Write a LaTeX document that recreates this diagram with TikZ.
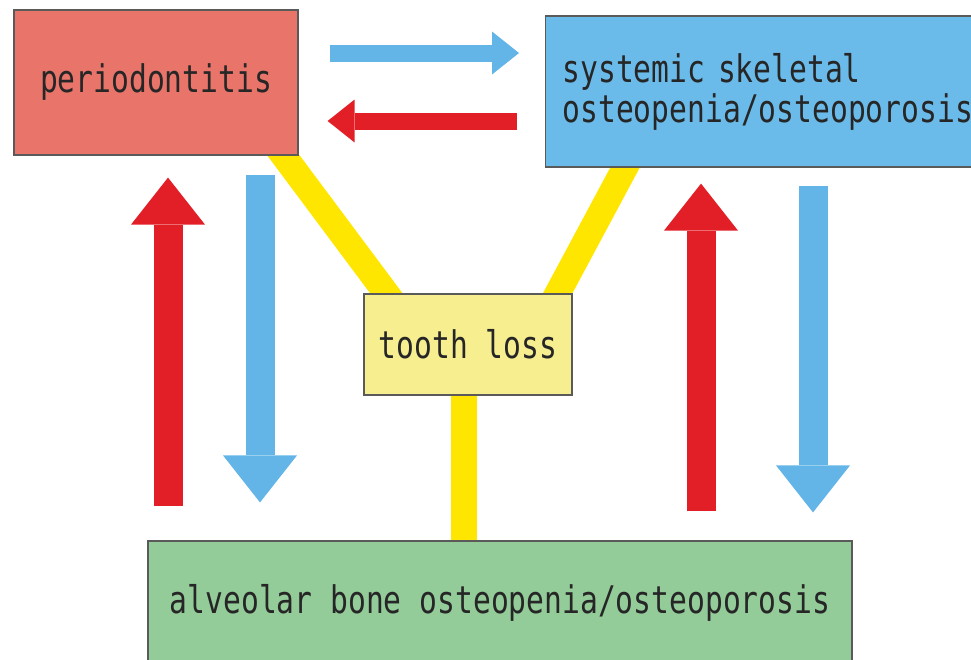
\documentclass[tikz,border=0pt]{standalone}
\usepackage{fontspec}
\newfontfamily\gothic[FakeStretch=0.78]{DejaVu Sans Mono}
\usepackage{tikz}
\usetikzlibrary{arrows.meta,backgrounds,calc}
\definecolor{perioRed}{HTML}{E8746A}
\definecolor{skelBlue}{HTML}{6BBBEA}
\definecolor{toothFill}{HTML}{F7EE90}
\definecolor{alvGreen}{HTML}{93CB99}
\definecolor{boxLine}{HTML}{5A5A5A}
\definecolor{arrBlue}{HTML}{63B5E7}
\definecolor{arrRed}{HTML}{E21F26}
\definecolor{bondYellow}{HTML}{FFE600}

\begin{document}
\begin{tikzpicture}[x=1pt, y=-1pt, box/.style={draw=boxLine, line width=1.2pt, inner sep=0pt, text=black!85, font=\gothic\fontsize{38}{40}\selectfont}, bond/.style={draw=bondYellow, line width=26pt}, bigarr/.style={line width=29pt, -{Triangle[length=47pt, width=74pt, line width=0pt]}}, smallarr/.style={line width=17pt, -{Triangle[length=27pt, width=43pt, line width=0pt]}}
]
  \useasboundingbox (0,0) rectangle (971,659);
  \node[box, fill=perioRed, minimum width=284pt, minimum height=145pt] (perio) at (156,82.5) {periodontitis};
  \node[box, fill=skelBlue, anchor=west, minimum height=151pt, text width=466pt, inner xsep=17pt, align=left] (skel) at (545,91.5)
    {systemic skeletal\\osteopenia/osteoporosis};
  \node[box, fill=toothFill, minimum width=208pt, minimum height=101pt] (tooth) at (468,344.5) {tooth loss};
  \node[box, fill=alvGreen, minimum width=704pt, minimum height=124pt] (alv) at (500,603)
    {alveolar bone osteopenia/osteoporosis};
  \begin{scope}[on background layer]
    \draw[bond, shorten <=-20pt, shorten >=-20pt] ($(perio.south east)+(-15,0)$) -- ($(tooth.north west)+(23,0)$);
    \draw[bond, shorten <=-20pt, shorten >=-20pt] ($(skel.south west)+(80,0)$) -- ($(tooth.north east)+(-15,0)$);
    \draw[bond, shorten <=-5pt, shorten >=-5pt] (tooth.south -| 464,0) -- (alv.north -| 464,0);
  \end{scope}
  \draw[smallarr, draw=arrBlue, shorten <=31pt, shorten >=26pt] (perio.east |- 0,53) -- (skel.west |- 0,53);
  \draw[smallarr, draw=arrRed, shorten <=28pt, shorten >=29pt] (skel.west |- 0,121) -- (perio.east |- 0,121);
  \draw[bigarr, draw=arrRed, shorten <=34pt, shorten >=22pt] (alv.north -| 168,0) -- (perio.south -| 168,0);
  \draw[bigarr, draw=arrBlue, shorten <=19pt, shorten >=38pt] (perio.south -| 260,0) -- (alv.north -| 260,0);
  \draw[bigarr, draw=arrRed, shorten <=29pt, shorten >=16pt] (alv.north -| 701,0) -- (skel.south -| 701,0);
  \draw[bigarr, draw=arrBlue, shorten <=18pt, shorten >=28pt] (skel.south -| 813,0) -- (alv.north -| 813,0);
\end{tikzpicture}
\end{document}
